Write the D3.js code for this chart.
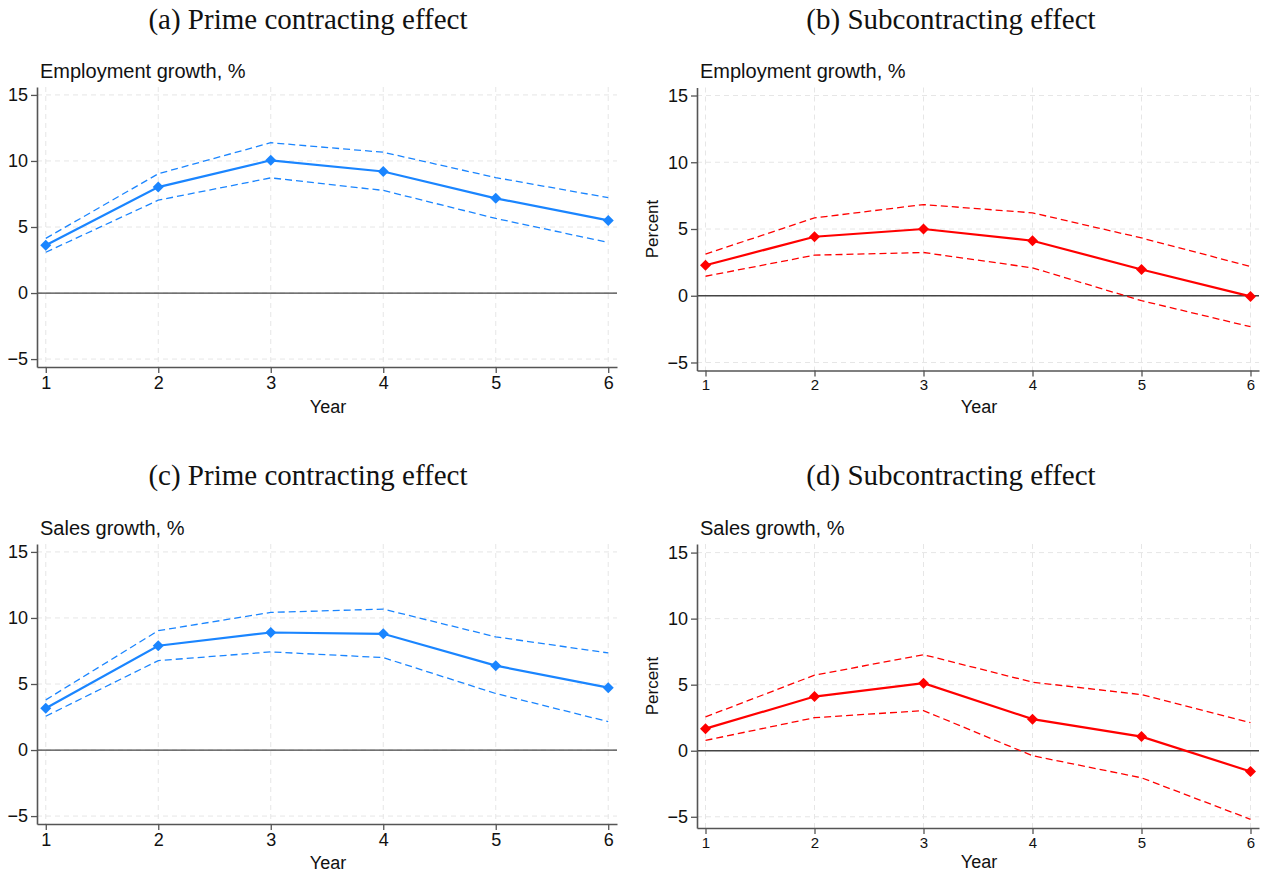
<!DOCTYPE html>
<html>
<head>
<meta charset="utf-8">
<script src="https://cdn.jsdelivr.net/npm/d3@7"></script>
<style>
  html, body { margin: 0; padding: 0; background: #fff; }
  svg { display: block; }
  .sans { font-family: "Liberation Sans", Arial, Helvetica, sans-serif; }
  .serif { font-family: "Liberation Serif", "Times New Roman", serif; }
</style>
</head>
<body>
<svg id="chart" width="1267" height="875"></svg>
<script>
// ---------------- DATA ----------------
const years = [1, 2, 3, 4, 5, 6];
const yTicks = [-5, 0, 5, 10, 15];

// (a) Prime contracting effect – employment growth
const empPrimeEst   = [3.62, 8.02, 10.05, 9.20, 7.17, 5.50];
const empPrimeUpper = [4.14, 9.03, 11.38, 10.66, 8.74, 7.22];
const empPrimeLower = [3.09, 7.03, 8.72, 7.77, 5.65, 3.83];

// (b) Subcontracting effect – employment growth
const empSubEst   = [2.28, 4.42, 5.00, 4.12, 1.97, -0.05];
const empSubUpper = [3.12, 5.83, 6.83, 6.21, 4.33, 2.19];
const empSubLower = [1.46, 3.04, 3.24, 2.09, -0.37, -2.32];

// (c) Prime contracting effect – sales growth
const salesPrimeEst   = [3.17, 7.90, 8.90, 8.80, 6.39, 4.72];
const salesPrimeUpper = [3.80, 9.04, 10.42, 10.67, 8.57, 7.35];
const salesPrimeLower = [2.56, 6.77, 7.43, 7.00, 4.28, 2.15];

// (d) Subcontracting effect – sales growth
const salesSubEst   = [1.67, 4.10, 5.11, 2.39, 1.07, -1.57];
const salesSubUpper = [2.56, 5.72, 7.27, 5.19, 4.25, 2.13];
const salesSubLower = [0.78, 2.50, 3.04, -0.38, -2.05, -5.19];

const panelTitles = ["(a) Prime contracting effect", "(b) Subcontracting effect",
                     "(c) Prime contracting effect", "(d) Subcontracting effect"];
const plotTitles = ["Employment growth, %", "Employment growth, %", "Sales growth, %", "Sales growth, %"];
const xLabel = "Year";
const yLabel = "Percent";

// ---------------- LAYOUT ----------------
const BLUE = "#1a85ff";
const RED = "#ff0000";

const panels = [
  { title: panelTitles[0], sub: plotTitles[0], est: empPrimeEst, up: empPrimeUpper, lo: empPrimeLower,
    color: BLUE, box: {l: 37, r: 617, t: 87, b: 367}, dom: [-5.6, 15.6], titleX: 308, titleY: 29,
    subX: 40, subY: 78, xTickFs: 18, yLab: false, xLabX: 328, xLabY: 413 },
  { title: panelTitles[1], sub: plotTitles[1], est: empSubEst, up: empSubUpper, lo: empSubLower,
    color: RED, box: {l: 697, r: 1259, t: 87.5, b: 370.5}, dom: [-5.6, 15.6], titleX: 951, titleY: 29,
    subX: 700, subY: 78, xTickFs: 15, yLab: true, yLabY: 229, xLabX: 979, xLabY: 413 },
  { title: panelTitles[2], sub: plotTitles[2], est: salesPrimeEst, up: salesPrimeUpper, lo: salesPrimeLower,
    color: BLUE, box: {l: 37, r: 617, t: 544, b: 824}, dom: [-5.6, 15.6], titleX: 308, titleY: 485,
    subX: 40, subY: 535, xTickFs: 18, yLab: false, xLabX: 328, xLabY: 869 },
  { title: panelTitles[3], sub: plotTitles[3], est: salesSubEst, up: salesSubUpper, lo: salesSubLower,
    color: RED, box: {l: 697, r: 1259, t: 544, b: 828}, dom: [-5.85, 15.65], titleX: 951, titleY: 485,
    subX: 700, subY: 535, xTickFs: 15, yLab: true, yLabY: 686, xLabX: 979, xLabY: 868 }
];

const svg = d3.select("#chart");
const fmt = d => d < 0 ? "\u2212" + Math.abs(d) : String(d);
const diamond = "M0,-5.5L5.5,0L0,5.5L-5.5,0Z";

panels.forEach(p => {
  const g = svg.append("g");
  const pad = 0.078;
  const x = d3.scaleLinear().domain([years[0] - pad, years[years.length - 1] + pad]).range([p.box.l, p.box.r]);
  const y = d3.scaleLinear().domain(p.dom).range([p.box.b, p.box.t]);

  // panel title (serif)
  g.append("text").attr("class", "serif")
    .attr("x", p.titleX).attr("y", p.titleY)
    .attr("text-anchor", "middle").attr("font-size", 29).attr("fill", "#111")
    .text(p.title);

  // plot subtitle
  g.append("text").attr("class", "sans")
    .attr("x", p.subX).attr("y", p.subY)
    .attr("font-size", 20).attr("fill", "#111")
    .text(p.sub);

  // grid lines
  g.append("g").selectAll("line.hg").data(yTicks).join("line")
    .attr("x1", p.box.l).attr("x2", p.box.r)
    .attr("y1", d => y(d)).attr("y2", d => y(d))
    .attr("stroke", "#e6e6e6").attr("stroke-width", 1).attr("stroke-dasharray", "5,4");
  g.append("g").selectAll("line.vg").data(years).join("line")
    .attr("x1", d => x(d)).attr("x2", d => x(d))
    .attr("y1", p.box.t).attr("y2", p.box.b)
    .attr("stroke", "#e6e6e6").attr("stroke-width", 1).attr("stroke-dasharray", "5,4");

  // zero line
  g.append("line")
    .attr("x1", p.box.l).attr("x2", p.box.r)
    .attr("y1", y(0)).attr("y2", y(0))
    .attr("stroke", "#444").attr("stroke-width", 1.3);

  // axes
  const yAxis = d3.axisLeft(y).tickValues(yTicks).tickFormat(fmt).tickSize(6).tickSizeOuter(0).tickPadding(3);
  const ya = g.append("g").attr("transform", `translate(${p.box.l},0)`).call(yAxis);
  ya.selectAll("text").attr("class", "sans").attr("font-size", 18).attr("fill", "#111");

  const xAxis = d3.axisBottom(x).tickValues(years).tickFormat(d3.format("d")).tickSize(6).tickSizeOuter(0).tickPadding(3);
  const xa = g.append("g").attr("transform", `translate(0,${p.box.b})`).call(xAxis);
  xa.selectAll("text").attr("class", "sans").attr("font-size", p.xTickFs).attr("fill", "#111");

  [ya, xa].forEach(a => {
    a.select(".domain").attr("stroke", "#555").attr("stroke-width", 1.6);
    a.selectAll(".tick line").attr("stroke", "#555").attr("stroke-width", 1.3);
    a.attr("font-family", null);
  });

  // axis labels
  g.append("text").attr("class", "sans")
    .attr("x", p.xLabX).attr("y", p.xLabY).attr("text-anchor", "middle")
    .attr("font-size", 18).attr("fill", "#111").text(xLabel);
  if (p.yLab) {
    g.append("text").attr("class", "sans")
      .attr("transform", `translate(${p.box.l - 39},${p.yLabY}) rotate(-90)`)
      .attr("text-anchor", "middle").attr("font-size", 17).attr("fill", "#111").text(yLabel);
  }

  // lines
  const line = arr => d3.line().x((d, i) => x(years[i])).y(d => y(d))(arr);
  g.append("path").attr("d", line(p.up)).attr("fill", "none")
    .attr("stroke", p.color).attr("stroke-width", 1.3).attr("stroke-dasharray", "7,4");
  g.append("path").attr("d", line(p.lo)).attr("fill", "none")
    .attr("stroke", p.color).attr("stroke-width", 1.3).attr("stroke-dasharray", "7,4");
  g.append("path").attr("d", line(p.est)).attr("fill", "none")
    .attr("stroke", p.color).attr("stroke-width", 2.2);

  g.append("g").selectAll("path").data(p.est).join("path")
    .attr("transform", (d, i) => `translate(${x(years[i])},${y(d)})`)
    .attr("d", diamond).attr("fill", p.color);
});
</script>
</body>
</html>
